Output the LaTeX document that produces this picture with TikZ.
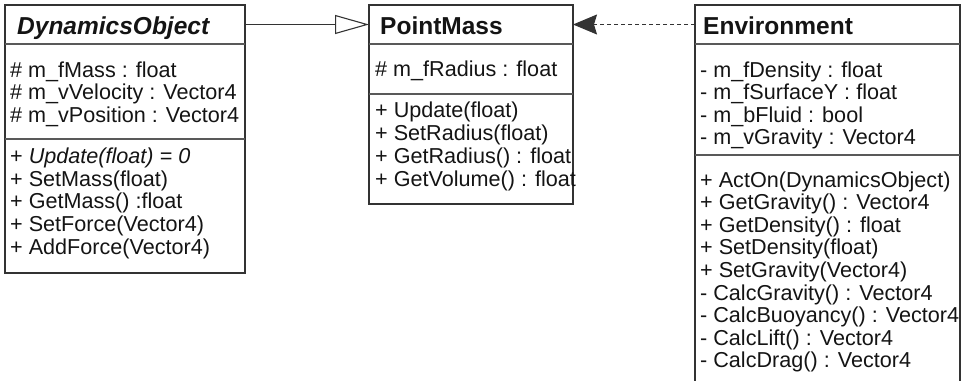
\documentclass[tikz,border=0pt]{standalone}
\usepackage{fontspec}
\setmainfont{Liberation Sans}
\usetikzlibrary{arrows.meta}
\begin{document}
\begin{tikzpicture}[x=1pt,y=-1pt,
  frame/.style={draw=black!80, line width=1.2pt, inner sep=0pt, outer sep=0pt, anchor=north west},
  head/.style={inner sep=0pt, outer sep=0pt, anchor=north west},
  sep/.style={draw=black!65, line width=1.1pt},
  member/.style={anchor=base west, inner sep=0pt, font=\fontsize{21.6}{22}\selectfont, text=black!92},
  cname/.style={anchor=base west, inner sep=0pt, font=\fontsize{24.5}{26}\selectfont\bfseries, text=black!92},
  gen/.style={draw=black!80, line width=1.1pt, -{Triangle[open, length=34pt, width=19pt]}},
  dep/.style={draw=black!80, line width=1.1pt, dash pattern=on 4pt off 3pt, -{Stealth[length=24pt, width=20pt, inset=3pt]}}
]
\useasboundingbox (0,0) rectangle (965,380);
\clip (0,0) rectangle (965,380);

% ---- DynamicsObject ----
\node[frame, minimum width=240pt, minimum height=268pt] (dyn) at (5,5) {};
\node[head, minimum width=240pt, minimum height=39pt] (dynh) at (5,5) {};
\node[head, minimum width=240pt, minimum height=95pt] (dyna) at (dynh.south west) {};
\draw[sep] (dynh.south west) -- (dynh.south east);
\draw[sep] (dyna.south west) -- (dyna.south east);
\node[cname] (dynt) at (17,34) {\itshape DynamicsObject};
\node[member] (dyn1) at (10,77) {\# m\_fMass : float};
\node[member] (dyn2) at (10,99.5) {\# m\_vVelocity : Vector4};
\node[member] (dyn3) at (10,122) {\# m\_vPosition : Vector4};
\node[member] (dyn4) at (10,163) {+ \itshape Update(float) = 0};
\node[member] (dyn5) at (10,186) {+ SetMass(float)};
\node[member] (dyn6) at (10,208.5) {+ GetMass() :float};
\node[member] (dyn7) at (10,231) {+ SetForce(Vector4)};
\node[member] (dyn8) at (10,254) {+ AddForce(Vector4)};

% ---- PointMass ----
\node[frame, minimum width=204pt, minimum height=199pt] (pm) at (369,5) {};
\node[head, minimum width=204pt, minimum height=39pt] (pmh) at (369,5) {};
\node[head, minimum width=204pt, minimum height=50pt] (pma) at (pmh.south west) {};
\draw[sep] (pmh.south west) -- (pmh.south east);
\draw[sep] (pma.south west) -- (pma.south east);
\node[cname] (pmt) at (380,34) {PointMass};
\node[member] (pm1) at (375,76.5) {\# m\_fRadius : float};
\node[member] (pm2) at (375,117) {+ Update(float)};
\node[member] (pm3) at (375,140) {+ SetRadius(float)};
\node[member] (pm4) at (375,163) {+ GetRadius() : float};
\node[member] (pm5) at (375,186) {+ GetVolume() : float};

% ---- Environment (runs past the lower edge) ----
\node[frame, minimum width=265pt, minimum height=420pt] (env) at (695,5) {};
\node[head, minimum width=265pt, minimum height=39pt] (envh) at (695,5) {};
\node[head, minimum width=265pt, minimum height=111pt] (enva) at (envh.south west) {};
\draw[sep] (envh.south west) -- (envh.south east);
\draw[sep] (enva.south west) -- (enva.south east);
\node[cname] (envt) at (703,34) {Environment};
\node[member] (env1) at (700,77) {- m\_fDensity : float};
\node[member] (env2) at (700,99.5) {- m\_fSurfaceY : float};
\node[member] (env3) at (700,122) {- m\_bFluid : bool};
\node[member] (env4) at (700,144.5) {- m\_vGravity : Vector4};
\node[member] (env5) at (700,187) {+ ActOn(DynamicsObject)};
\node[member] (env6) at (700,209.6) {+ GetGravity() : Vector4};
\node[member] (env7) at (700,232.2) {+ GetDensity() : float};
\node[member] (env8) at (700,254.8) {+ SetDensity(float)};
\node[member] (env9) at (700,277.4) {+ SetGravity(Vector4)};
\node[member] (env10) at (700,300) {- CalcGravity() : Vector4};
\node[member] (env11) at (700,322.6) {- CalcBuoyancy() : Vector4};
\node[member] (env12) at (700,345.2) {- CalcLift() : Vector4};
\node[member] (env13) at (700,367.8) {- CalcDrag() : Vector4};

% ---- relations ----
\draw[gen] (dynh.east) -- (pmh.west);
\draw[dep] (envh.west) -- (pmh.east);
\end{tikzpicture}
\end{document}
